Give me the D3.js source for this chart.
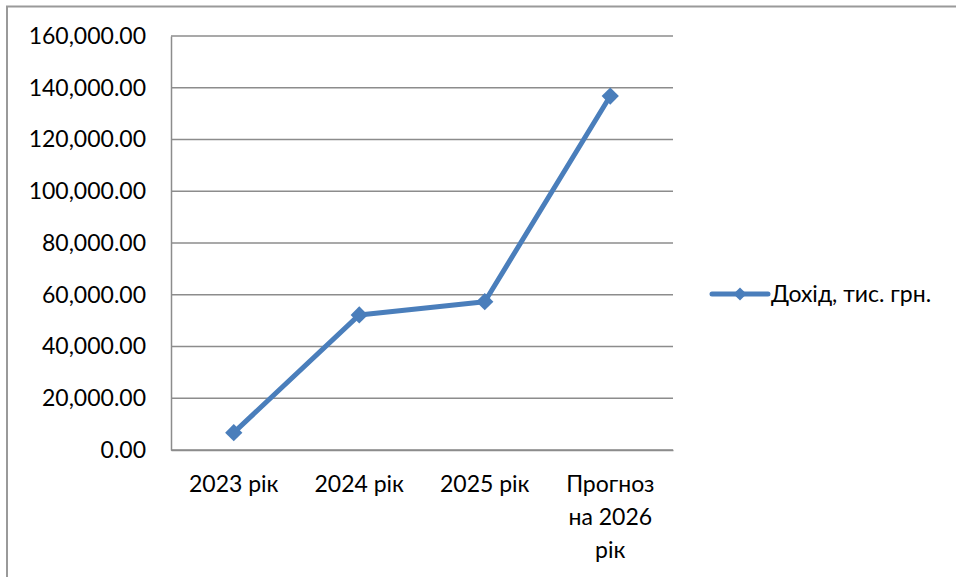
<!DOCTYPE html>
<html>
<head>
<meta charset="utf-8">
<script src="https://cdn.jsdelivr.net/npm/d3@7"></script>
<style>
  html, body { margin: 0; padding: 0; background: #fff; }
  svg { display: block; }
  text { font-family: Lato, "Open Sans", sans-serif; fill: #000; }
</style>
</head>
<body>
<svg id="chart" width="956" height="577"></svg>
<script>
// Income by year, thousand UAH
const categories = ["2023 рік", "2024 рік", "2025 рік", "Прогноз на 2026 рік"];
const incomeValues = [6700, 52200, 57300, 136800];
const seriesName = "Дохід, тис. грн.";
const yTicks = [0, 20000, 40000, 60000, 80000, 100000, 120000, 140000, 160000];

const svg = d3.select("#chart");
const plot = { left: 171, right: 673, top: 36, bottom: 450 };
const lineColor = "#4A7EBB";
const gridColor = "#8c8c8c";

// Outer chart frame (continues past the right and bottom edges)
svg.append("rect")
  .attr("x", 7).attr("y", 6.5)
  .attr("width", 1200).attr("height", 1200)
  .attr("fill", "none").attr("stroke", "#9a9a9a").attr("stroke-width", 2);

const x = d3.scaleBand().domain(categories).range([plot.left, plot.right]).padding(0);
const y = d3.scaleLinear().domain([0, 160000]).range([plot.bottom, plot.top]);

// Horizontal gridlines
svg.append("g")
  .selectAll("line")
  .data(yTicks)
  .join("line")
  .attr("x1", plot.left).attr("x2", plot.right)
  .attr("y1", d => y(d)).attr("y2", d => y(d))
  .attr("stroke", gridColor).attr("stroke-width", 1.5);

// Y axis
const fmt = d3.format(",.2f");
const yAxis = svg.append("g")
  .attr("transform", `translate(${plot.left},0)`)
  .call(d3.axisLeft(y).tickValues(yTicks).tickFormat(fmt).tickSize(0).tickPadding(25));
yAxis.select(".domain").attr("stroke", gridColor).attr("stroke-width", 1.5);
yAxis.selectAll("text")
  .attr("font-size", 23)
  .attr("font-family", "Lato, sans-serif")
  .attr("fill", "#000");

// X axis
const xAxis = svg.append("g")
  .attr("transform", `translate(0,${plot.bottom})`)
  .call(d3.axisBottom(x).tickSize(0).tickPadding(0));
xAxis.select(".domain").attr("stroke", gridColor).attr("stroke-width", 1.5);
xAxis.selectAll("text").remove();

// Category labels, wrapped to the band width
const lineH = 33;
xAxis.selectAll("g.tick").each(function (d) {
  const g = d3.select(this);
  const t = g.append("text")
    .attr("text-anchor", "middle")
    .attr("font-size", 23)
    .attr("font-family", "Lato, sans-serif")
    .attr("fill", "#000");
  const words = d.split(" ");
  const lines = [];
  let cur = [];
  const maxW = x.bandwidth() - 8;
  const probe = t.append("tspan");
  words.forEach(w => {
    const test = cur.concat([w]).join(" ");
    probe.text(test);
    if (probe.node().getComputedTextLength() > maxW && cur.length) {
      lines.push(cur.join(" "));
      cur = [w];
    } else {
      cur.push(w);
    }
  });
  if (cur.length) lines.push(cur.join(" "));
  probe.remove();
  lines.forEach((ln, i) => {
    t.append("tspan").attr("x", 0).attr("y", 42 + i * lineH).text(ln);
  });
});

// Series line
const line = d3.line()
  .x((d, i) => x(categories[i]) + x.bandwidth() / 2)
  .y(d => y(d));

svg.append("path")
  .datum(incomeValues)
  .attr("d", line)
  .attr("fill", "none")
  .attr("stroke", lineColor)
  .attr("stroke-width", 5)
  .attr("stroke-linejoin", "round");

const diamond = d3.symbol().type(d3.symbolDiamond2).size(190);
svg.append("g")
  .selectAll("path")
  .data(incomeValues)
  .join("path")
  .attr("d", diamond)
  .attr("transform", (d, i) => `translate(${x(categories[i]) + x.bandwidth() / 2},${y(d)})`)
  .attr("fill", lineColor);

// Legend
const lg = svg.append("g").attr("transform", "translate(712,294)");
lg.append("line")
  .attr("x1", 0).attr("x2", 56).attr("y1", 0).attr("y2", 0)
  .attr("stroke", lineColor).attr("stroke-width", 5).attr("stroke-linecap", "round");
lg.append("path")
  .attr("d", d3.symbol().type(d3.symbolDiamond2).size(110)())
  .attr("transform", "translate(28,0)")
  .attr("fill", lineColor);
lg.append("text")
  .attr("x", 59).attr("y", 0).attr("dy", "0.35em")
  .attr("font-size", 23)
  .text(seriesName);
</script>
</body>
</html>
